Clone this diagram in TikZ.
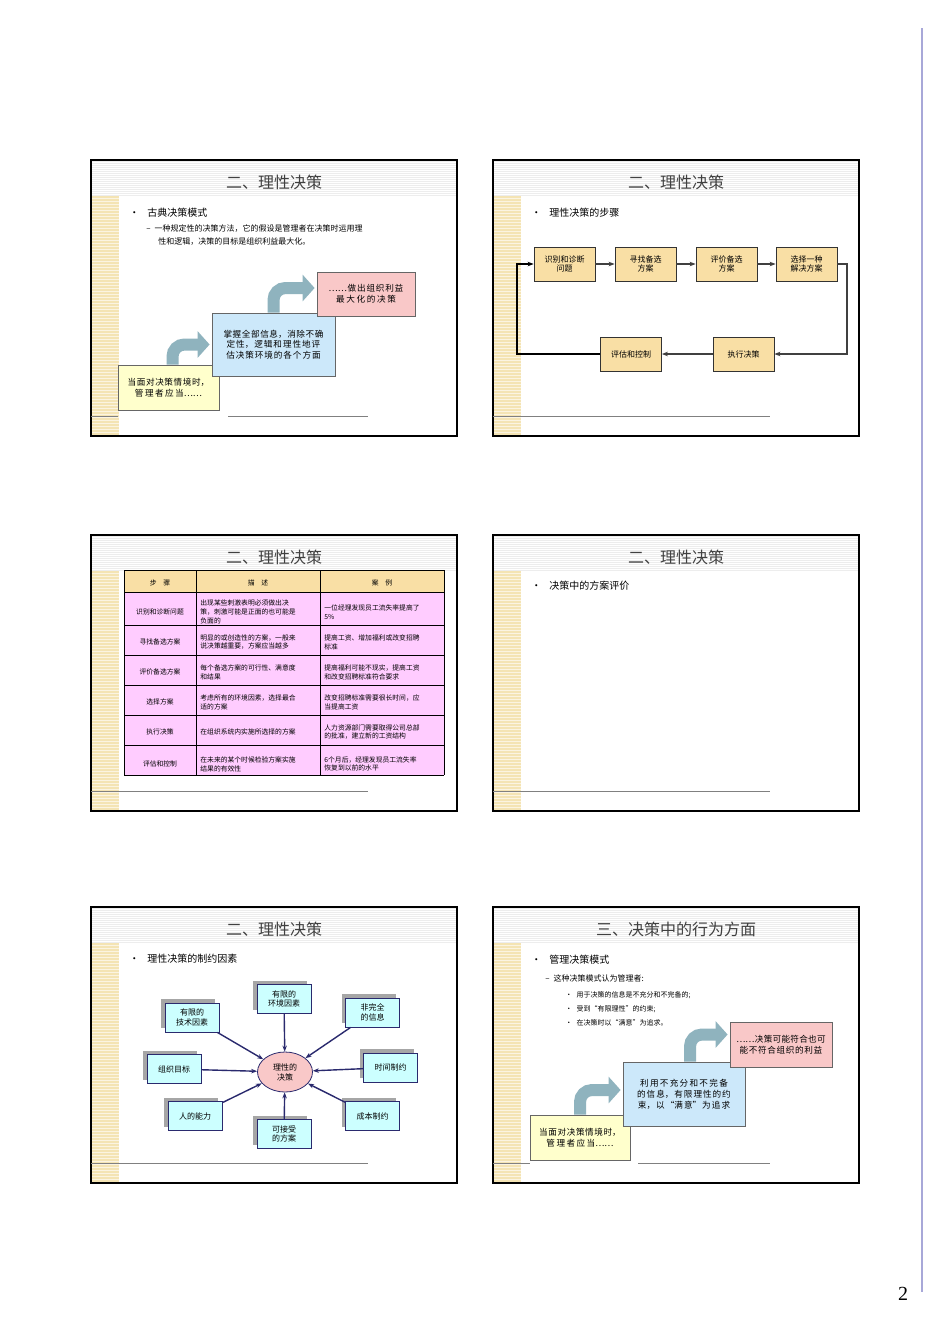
\documentclass[tikz,border=0pt]{standalone}
\usepackage{fontspec}
\setmainfont{Noto Sans CJK SC}
\newfontfamily\pnum{Liberation Serif}
\XeTeXlinebreaklocale "zh"
\XeTeXlinebreakskip=0pt plus 1pt
\usetikzlibrary{arrows.meta,shapes.geometric,shadows}
\definecolor{stripbg}{HTML}{F4E4B4}
\definecolor{boxtan}{HTML}{F9DFA5}
\definecolor{boxyel}{HTML}{FFFFCC}
\definecolor{boxblue}{HTML}{CCE8FA}
\definecolor{boxpink}{HTML}{F9C8C8}
\definecolor{tabpink}{HTML}{FFCCFF}
\definecolor{factcyan}{HTML}{CCFFFF}
\definecolor{navy}{HTML}{2A2A6E}
\definecolor{bendcol}{HTML}{8FB3BE}
\definecolor{pageline}{HTML}{A8A8D8}

\tikzset{
  slidetitle/.style={font=\fontsize{8}{9}\selectfont, text=black!75},
  bul/.style={anchor=west, font=\fontsize{5}{6}\selectfont, inner sep=0pt},
  subbul/.style={anchor=west, font=\fontsize{4}{6}\selectfont, inner sep=0pt, align=left},
  step box/.style={draw=black!80, fill=boxtan, minimum width=30.5pt, minimum height=17pt,
    font=\fontsize{4}{4.6}\selectfont, align=center, inner sep=1pt},
  flow box/.style={draw=black!60, font=\fontsize{4.3}{5.4}\selectfont, align=center, inner sep=1pt},
  fact box/.style={draw=navy, fill=factcyan, minimum width=27pt, minimum height=14.5pt,
    font=\fontsize{4}{4.6}\selectfont, align=center, inner sep=1pt,
    drop shadow={shadow xshift=-2pt, shadow yshift=2pt, fill=gray!70, opacity=1}},
  fact arrow/.style={-{Stealth[length=3pt]}, navy, line width=0.7pt},
  bend arrow/.style={line width=6pt, bendcol, rounded corners=6pt,
    -{Triangle[length=6pt, width=13pt]}},
  cell/.style={font=\fontsize{3.4}{4.4}\selectfont, inner sep=0pt, align=left, anchor=west}
}

\newcommand{\slideframe}[1]{%
  \fill[gray!14] (0,0) rectangle (366,36);
  \foreach \yy in {2,4,...,34} \draw[white, line width=0.2pt] (0,\yy) -- (366,\yy);
  \fill[stripbg] (0,36) rectangle (28,276);
  \foreach \yy in {38,41,...,275} \draw[stripbg!40!white, line width=0.4pt] (0,\yy) -- (28,\yy);
  \draw[line width=0.9pt] (0,0) rectangle (366,276);
  \node[slidetitle] at (183,22) {#1};
}
\newcommand{\tabrow}[5]{%
  \node[font=\fontsize{3.4}{4.4}\selectfont] at (69,#1+#2) {#3};
  \node[cell] at (109,#1+#2) {#4};
  \node[cell] at (233,#1+#2) {#5};
}

\begin{document}
\begin{tikzpicture}[x=0.5pt, y=-0.5pt]
  \useasboundingbox (0,0) rectangle (950,1344);
  \fill[white] (0,0) rectangle (950,1344);

  % page furniture
  \draw[pageline, line width=0.8pt] (922,28) -- (922,1292);
  \node[font=\pnum\fontsize{10}{10}\selectfont] (pg) at (903,1294) {2};

  % slide 1: classical model
  \begin{scope}[shift={(91,160)}]
    \slideframe{二、理性决策}
    \draw[gray, line width=0.4pt] (0,256) -- (27,256) (137,256) -- (277,256);
    \node[bul] (c1) at (38,53) {•\hspace{0.8em}古典决策模式};
    \node[subbul] (c2) at (55,69) {–\hspace{0.5em}一种规定性的决策方法，它的假设是管理者在决策时运用理};
    \node[subbul] (c3) at (67,82) {性和逻辑，决策的目标是组织利益最大化。};
    \node[flow box, fill=boxyel, minimum width=50.5pt, minimum height=22.5pt, text width=46pt]
      (y1) at (77.5,227.5) {当面对决策情境时，\\管理者应当……};
    \node[flow box, fill=boxblue, minimum width=61.5pt, minimum height=31.5pt, text width=55pt]
      (b1) at (182.5,184.5) {掌握全部信息，消除不确定性，逻辑和理性地评估决策环境的各个方面};
    \node[flow box, fill=boxpink, minimum width=49pt, minimum height=22pt, text width=44pt]
      (p1) at (275,134) {……做出组织利益\\最大化的决策};
    \draw[bend arrow] ([xshift=2pt]y1.north) |- ([xshift=-1pt]b1.west);
    \draw[bend arrow] (b1.north) |- ([xshift=-1pt, yshift=3pt]p1.west);
  \end{scope}

  % slide 2: steps
  \begin{scope}[shift={(493,160)}]
    \slideframe{二、理性决策}
    \draw[gray, line width=0.4pt] (0,256) -- (277,256);
    \node[bul] (r1) at (38,53) {•\hspace{0.8em}理性决策的步骤};
    \node[step box] (s1) at (71.5,104) {识别和诊断\\问题};
    \node[step box] (s2) at (152.5,104) {寻找备选\\方案};
    \node[step box] (s3) at (233.5,104) {评价备选\\方案};
    \node[step box] (s4) at (313.5,104) {选择一种\\解决方案};
    \node[step box] (s5) at (250.5,194) {执行决策};
    \node[step box] (s6) at (138,194) {评估和控制};
    \coordinate (rt) at (354,104);
    \coordinate (lf) at (24,194);
    \draw[-{Stealth[length=3pt]}, line width=0.6pt, black!75]
      (s1) edge (s2) (s2) edge (s3) (s3) edge (s4)
      (s4.east) -- (rt) |- (s5.east);
    \draw[-{Stealth[length=3pt]}, line width=0.6pt, black!75] (s5) -- (s6);
    \draw[-{Stealth[length=3pt]}, line width=0.9pt] (s6.west) -- (lf) |- (s1.west);
  \end{scope}

  % slide 3: table
  \begin{scope}[shift={(91,535)}]
    \slideframe{二、理性决策}
    \draw[gray, line width=0.4pt] (0,256) -- (277,256);
    \fill[boxtan] (33,35) rectangle (353,57);
    \fill[tabpink] (33,57) rectangle (353,240);
    \foreach \yy in {35,57,90,120,150,180,210,240} \draw[line width=0.5pt] (33,\yy) -- (353,\yy);
    \foreach \xx in {33,105,229,353} \draw[line width=0.5pt] (\xx,35) -- (\xx,240);
    \node[font=\fontsize{3.4}{4.4}\selectfont] at (69,48) {步\hspace{1em}骤};
    \node[font=\fontsize{3.4}{4.4}\selectfont] at (167,48) {描\hspace{1em}述};
    \node[font=\fontsize{3.4}{4.4}\selectfont] at (291,48) {案\hspace{1em}例};
    \tabrow{57}{20}{识别和诊断问题}{出现某些刺激表明必须做出决\\策，刺激可能是正面的也可能是\\负面的}{一位经理发现员工流失率提高了\\5\%}
    \tabrow{90}{17}{寻找备选方案}{明显的或创造性的方案，一般来\\说决策越重要，方案应当越多}{提高工资、增加福利或改变招聘\\标准}
    \tabrow{120}{17}{评价备选方案}{每个备选方案的可行性、满意度\\和结果}{提高福利可能不现实，提高工资\\和改变招聘标准符合要求}
    \tabrow{150}{17}{选择方案}{考虑所有的环境因素，选择最合\\适的方案}{改变招聘标准需要很长时间，应\\当提高工资}
    \tabrow{180}{17}{执行决策}{在组织系统内实施所选择的方案}{人力资源部门需要取得公司总部\\的批准，建立新的工资结构}
    \tabrow{210}{19}{评估和控制}{在未来的某个时候检验方案实施\\结果的有效性}{6个月后，经理发现员工流失率\\恢复到以前的水平}
  \end{scope}

  % slide 4
  \begin{scope}[shift={(493,535)}]
    \slideframe{二、理性决策}
    \draw[gray, line width=0.4pt] (0,256) -- (277,256);
    \node[bul] (e1) at (38,51) {•\hspace{0.8em}决策中的方案评价};
  \end{scope}

  % slide 5: constraints
  \begin{scope}[shift={(91,907)}]
    \slideframe{二、理性决策}
    \draw[gray, line width=0.4pt] (0,256) -- (277,256);
    \node[bul] (k1) at (38,52) {•\hspace{0.8em}理性决策的制约因素};
    \node[ellipse, draw=navy, fill=boxpink, minimum width=27.5pt, minimum height=20pt,
      font=\fontsize{4}{5}\selectfont, align=center, inner sep=0pt] (rd) at (194,165) {理性的\\决策};
    \node[fact box] (t1) at (101,110.5) {有限的\\技术因素};
    \node[fact box] (t2) at (193,92) {有限的\\环境因素};
    \node[fact box] (t3) at (281.5,105.5) {非完全\\的信息};
    \node[fact box] (t4) at (83,162) {组织目标};
    \node[fact box] (t5) at (299.5,160.5) {时间制约};
    \node[fact box] (t6) at (104,209) {人的能力};
    \node[fact box] (t7) at (193,227) {可接受\\的方案};
    \node[fact box] (t8) at (281.5,209) {成本制约};
    \foreach \t in {t1,t2,t3,t4,t5,t6,t7,t8}
      \draw[fact arrow] (\t) -- (rd);
  \end{scope}

  % slide 6: behavioral model
  \begin{scope}[shift={(493,907)}]
    \slideframe{三、决策中的行为方面}
    \draw[gray, line width=0.4pt] (0,256) -- (37,256) (145,256) -- (277,256);
    \node[bul] (m1) at (38,53) {•\hspace{0.8em}管理决策模式};
    \node[subbul] (m2) at (52,71) {–\hspace{0.5em}这种决策模式认为管理者:};
    \node[subbul, font=\fontsize{3.5}{4.5}\selectfont] (m3) at (72,88) {•\hspace{0.6em}用于决策的信息是不充分和不完备的;};
    \node[subbul, font=\fontsize{3.5}{4.5}\selectfont] (m4) at (72,102) {•\hspace{0.6em}受到“有限理性”的约束;};
    \node[subbul, font=\fontsize{3.5}{4.5}\selectfont] (m5) at (72,116) {•\hspace{0.6em}在决策时以“满意”为追求。};
    \node[flow box, fill=boxyel, minimum width=50pt, minimum height=22.5pt, text width=46pt]
      (y2) at (87,230.5) {当面对决策情境时，\\管理者应当……};
    \node[flow box, fill=boxblue, minimum width=61pt, minimum height=32pt, text width=55pt]
      (b2) at (191,187) {利用不充分和不完备的信息，有限理性的约束，以“满意”为追求};
    \node[flow box, fill=boxpink, minimum width=51pt, minimum height=22.5pt, text width=47pt]
      (p2) at (288,137.5) {……决策可能符合也可能不符合组织的利益};
    \draw[bend arrow] (y2.north) |- ([xshift=-1pt, yshift=2pt]b2.west);
    \draw[bend arrow] ([xshift=3pt]b2.north) |- ([xshift=-1pt, yshift=5pt]p2.west);
  \end{scope}
\end{tikzpicture}
\end{document}
